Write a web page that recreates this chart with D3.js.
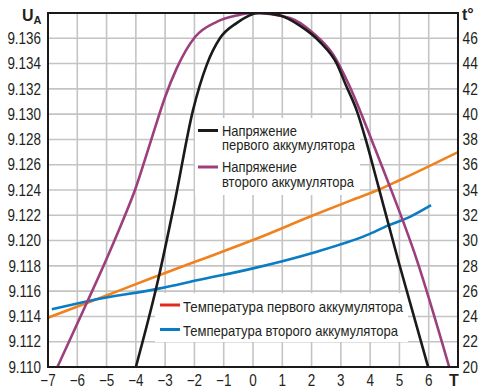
<!DOCTYPE html>
<html>
<head>
<meta charset="utf-8">
<script src="https://cdn.jsdelivr.net/npm/d3@7/dist/d3.min.js"></script>
<style>
  html, body { margin: 0; padding: 0; background: #fff; }
  svg { display: block; }
  text { font-family: "Liberation Sans", Arial, sans-serif; }
</style>
</head>
<body>
<svg id="chart" width="485" height="392"></svg>
<script>
// ---- data ----
const xTicks = [-7, -6, -5, -4, -3, -2, -1, 0, 1, 2, 3, 4, 5, 6];
const xTickLabels = ["−7", "−6", "−5", "−4", "−3", "−2", "−1", "0", "1", "2", "3", "4", "5", "6"];
const leftTicks = [9.110, 9.112, 9.114, 9.116, 9.118, 9.120, 9.122, 9.124, 9.126, 9.128, 9.130, 9.132, 9.134, 9.136];
const rightTicks = [20, 22, 24, 26, 28, 30, 32, 34, 36, 38, 40, 42, 44, 46];

// Voltage of first battery (black)
const v1T = [-4.0, -3.23, -2.66, -2.05, -1.58, -1.13, -0.56, 0.2, 0.92, 1.6, 2.29, 2.86, 3.17, 3.54, 3.86, 4.13, 4.95, 5.98];
const v1U = [9.110, 9.1170, 9.1232, 9.1303, 9.1339, 9.1360, 9.1372, 9.1380, 9.1378, 9.1370, 9.1357, 9.1340, 9.1323, 9.1303, 9.1279, 9.1256, 9.1185, 9.110];
// Voltage of second battery (purple)
const v2T = [-6.68, -5.67, -4.99, -4.37, -4.03, -3.69, -3.35, -3.01, -2.61, -1.98, -1.24, -0.56, 0.0, 1.26, 2.06, 2.74, 3.28, 3.72, 4.06, 4.45, 5.59, 6.70];
const v2U = [9.110, 9.1151, 9.1186, 9.1220, 9.1240, 9.1264, 9.1289, 9.1313, 9.1336, 9.1361, 9.1373, 9.1378, 9.1380, 9.1376, 9.1364, 9.1347, 9.1323, 9.1299, 9.1279, 9.1256, 9.1185, 9.110];
// Temperature of first battery (orange)
const t1T = [-7, -5, -3.5, -2, 0, 2.06, 3.37, 4.27, 5, 7];
const t1C = [23.9, 25.66, 27.0, 28.3, 30.04, 32.0, 33.2, 34.0, 34.77, 37.0];
// Temperature of second battery (blue)
const t2T = [-6.87, -5.57, -3.18, -1.87, 0, 2.06, 3.88, 4.62, 5.36, 6.08];
const t2C = [24.56, 25.24, 26.22, 26.88, 27.8, 29.04, 30.43, 31.2, 31.88, 32.8];

const legendV = [["Напряжение", "первого аккумулятора"], ["Напряжение", "второго аккумулятора"]];
const legendT = ["Температура первого аккумулятора", "Температура второго аккумулятора"];

// ---- layout ----
const L = 48, R = 458, T = 13, B = 367;
const svg = d3.select("#chart");
const x = d3.scaleLinear().domain([-7, 7]).range([L, R]);
const yU = d3.scaleLinear().domain([9.110, 9.138]).range([B, T]);
const yT = d3.scaleLinear().domain([20, 48]).range([B, T]);
const ink = "#231f20";

const gridColor = "#c4c4c4";
svg.append("g").selectAll("line").data(d3.range(-6, 7)).join("line")
  .attr("x1", d => x(d)).attr("x2", d => x(d)).attr("y1", T).attr("y2", B)
  .attr("stroke", gridColor).attr("stroke-width", 1.6);
svg.append("g").selectAll("line").data(leftTicks.slice(1)).join("line")
  .attr("x1", L).attr("x2", R).attr("y1", d => yU(d)).attr("y2", d => yU(d))
  .attr("stroke", gridColor).attr("stroke-width", 1.6);

// legend backgrounds
svg.append("rect").attr("x", 195).attr("y", 118).attr("width", 165).attr("height", 77).attr("fill", "#fff");
svg.append("rect").attr("x", 155).attr("y", 293).attr("width", 253).attr("height", 49).attr("fill", "#fff");

svg.append("clipPath").attr("id", "clip").append("rect")
  .attr("x", L).attr("y", T).attr("width", R - L).attr("height", B - T);

const plot = svg.append("g").attr("clip-path", "url(#clip)");
const lineU = d3.line().x(d => x(d[0])).y(d => yU(d[1])).curve(d3.curveMonotoneX);
const lineT = d3.line().x(d => x(d[0])).y(d => yT(d[1])).curve(d3.curveMonotoneX);

plot.append("path").datum(t1T.map((t, i) => [t, t1C[i]])).attr("d", lineT)
  .attr("fill", "none").attr("stroke", "#f0821e").attr("stroke-width", 2.6);
plot.append("path").datum(t2T.map((t, i) => [t, t2C[i]])).attr("d", lineT)
  .attr("fill", "none").attr("stroke", "#0a7cc4").attr("stroke-width", 2.6);
plot.append("path").datum(v2T.map((t, i) => [t, v2U[i]])).attr("d", lineU)
  .attr("fill", "none").attr("stroke", "#9c3f7d").attr("stroke-width", 2.6);
plot.append("path").datum(v1T.map((t, i) => [t, v1U[i]])).attr("d", lineU)
  .attr("fill", "none").attr("stroke", "#1a1a1a").attr("stroke-width", 2.6);

svg.append("rect").attr("x", L).attr("y", T).attr("width", R - L).attr("height", B - T)
  .attr("fill", "none").attr("stroke", "#1a1a1a").attr("stroke-width", 2);

// condensed look: shrink each text horizontally
function condense(sel, k) {
  sel.each(function () {
    const w = this.getComputedTextLength();
    d3.select(this).attr("textLength", (w * k).toFixed(1)).attr("lengthAdjust", "spacingAndGlyphs");
  });
}

const tickFont = 16;
const lt = svg.append("g").selectAll("text").data(leftTicks).join("text")
  .attr("x", 41).attr("y", d => yU(d)).attr("dy", "0.36em").attr("text-anchor", "end")
  .attr("font-size", tickFont).attr("fill", ink).text(d => d.toFixed(3));
condense(lt, 0.84);
const rt = svg.append("g").selectAll("text").data(rightTicks).join("text")
  .attr("x", 462.5).attr("y", d => yT(d)).attr("dy", "0.36em").attr("text-anchor", "start")
  .attr("font-size", tickFont).attr("fill", ink).text(d => d);
condense(rt, 0.86);
const bt = svg.append("g").selectAll("text").data(xTicks).join("text")
  .attr("x", d => x(d)).attr("y", 386).attr("text-anchor", "middle")
  .attr("font-size", tickFont).attr("fill", ink).text((d, i) => xTickLabels[i]);
condense(bt, 0.84);
svg.append("text").attr("x", x(7) - 4).attr("y", 386).attr("text-anchor", "middle")
  .attr("font-size", tickFont).attr("font-weight", "bold").attr("fill", ink).text("T");
const ua = svg.append("text").attr("x", 22).attr("y", 21).attr("font-size", 16).attr("font-weight", "bold").attr("fill", ink);
ua.append("tspan").text("U");
ua.append("tspan").attr("font-size", 11).attr("dy", 3).text("A");
svg.append("text").attr("x", 462).attr("y", 20).attr("font-size", 16).attr("font-weight", "bold").attr("fill", ink).text("t°");

// legends
const legFont = 14.5;
const legWidths = { "Напряжение": 75, "первого аккумулятора": 133, "второго аккумулятора": 132,
  "Температура первого аккумулятора": 220, "Температура второго аккумулятора": 215 };
function legLine(x1, y, color) {
  svg.append("line").attr("x1", x1).attr("x2", x1 + 20).attr("y1", y).attr("y2", y)
    .attr("stroke", color).attr("stroke-width", 3);
}
function legText(x0, y, s) {
  svg.append("text").attr("x", x0).attr("y", y).attr("font-size", legFont).attr("fill", ink)
    .attr("textLength", legWidths[s]).attr("lengthAdjust", "spacingAndGlyphs").text(s);
}
legLine(198, 130.5, "#1a1a1a");
legText(222, 135.5, legendV[0][0]);
legText(222, 150, legendV[0][1]);
legLine(198, 167, "#9c3f7d");
legText(222, 172, legendV[1][0]);
legText(222, 186.5, legendV[1][1]);
legLine(160, 305, "#e4291f");
legText(183, 311.5, legendT[0]);
legLine(160, 329.5, "#0a7cc4");
legText(183, 336, legendT[1]);
</script>
</body>
</html>
